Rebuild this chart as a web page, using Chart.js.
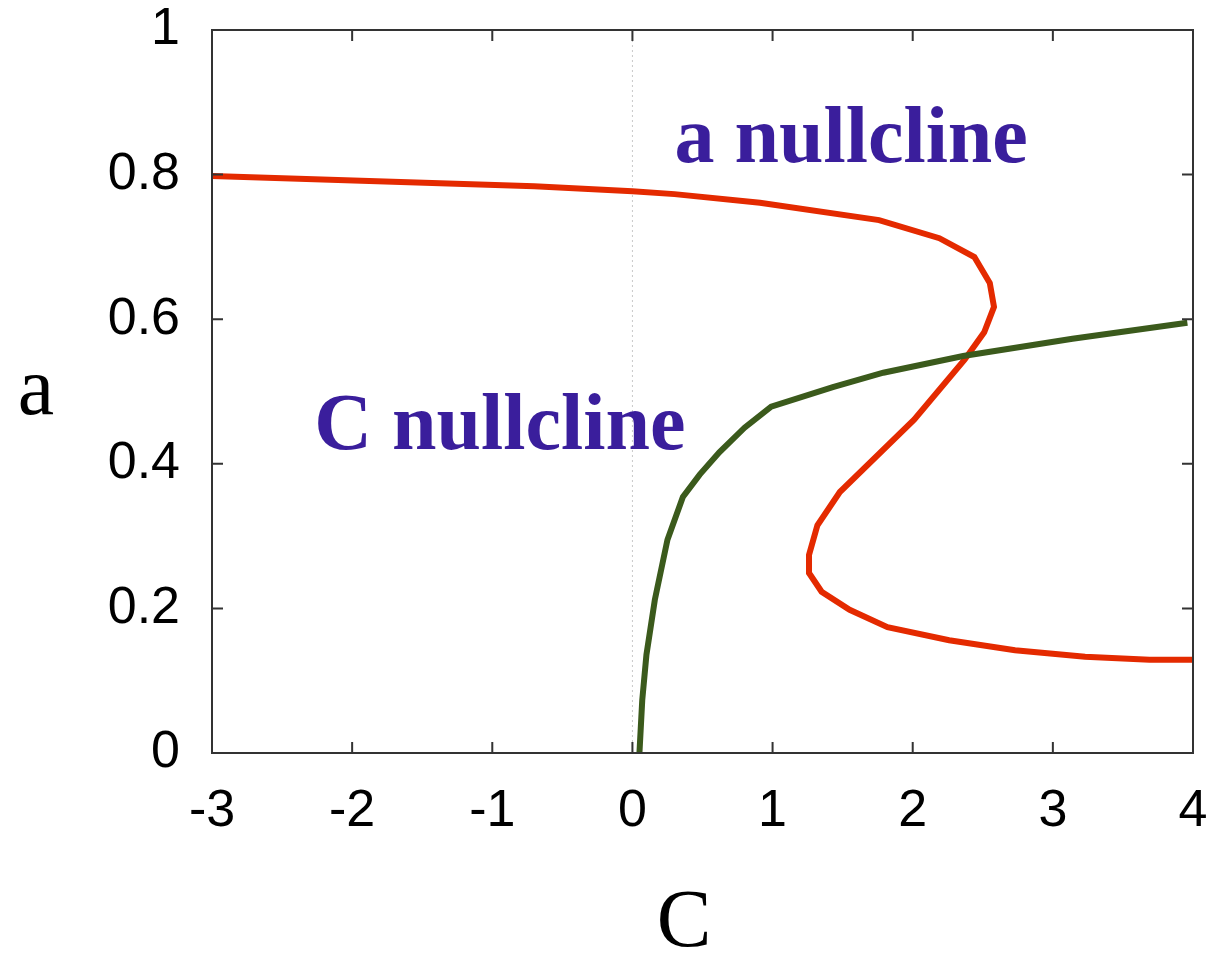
<!DOCTYPE html>
<html>
<head>
<meta charset="utf-8">
<script src="https://cdn.jsdelivr.net/npm/chart.js@4"></script>
<style>
  html, body { margin: 0; padding: 0; background: #fff; }
  #wrap { width: 1222px; height: 954px; }
</style>
</head>
<body>
<div id="wrap"><canvas id="canvas"></canvas></div>
<script>
// a nullcline (red)
const aNullC = [-3, -0.70, 0, 0.30, 0.91, 1.76, 2.19, 2.44, 2.55, 2.58, 2.51, 2.37, 2.01, 1.48, 1.32, 1.26, 1.26, 1.35, 1.55, 1.82, 2.26, 2.73, 3.23, 3.69, 4.0];
const aNullA = [0.798, 0.784, 0.777, 0.773, 0.761, 0.737, 0.712, 0.686, 0.650, 0.617, 0.582, 0.544, 0.461, 0.361, 0.315, 0.274, 0.249, 0.223, 0.198, 0.174, 0.156, 0.142, 0.133, 0.129, 0.129];

// C nullcline (green)
const cNullC = [0.05, 0.07, 0.10, 0.16, 0.25, 0.36, 0.48, 0.62, 0.80, 0.99, 1.43, 1.79, 2.36, 3.14, 3.96];
const cNullA = [0.0, 0.073, 0.136, 0.212, 0.295, 0.354, 0.385, 0.416, 0.450, 0.479, 0.506, 0.526, 0.549, 0.573, 0.595];

// textos sobre el grafico
const labels = [
  { text: "a nullcline", c: 0.30, a: 0.818 },
  { text: "C nullcline", c: -2.27, a: 0.420 }
];

const toPoints = (xs, ys) => xs.map((x, i) => ({ x: x, y: ys[i] }));

Chart.defaults.font.family = "'Liberation Sans', Arial, sans-serif";
Chart.defaults.color = "#000";

// dibuja ticks hacia adentro, linea punteada en C=0, textos y titulos
const extras = {
  id: "extras",
  beforeDatasetsDraw(chart) {
    const ctx = chart.ctx;
    const x = chart.scales.x;
    const area = chart.chartArea;
    const x0 = x.getPixelForValue(0);
    ctx.save();
    ctx.strokeStyle = "#c8c8c8";
    ctx.lineWidth = 1;
    ctx.setLineDash([2, 3]);
    ctx.beginPath();
    ctx.moveTo(x0, area.top);
    ctx.lineTo(x0, area.bottom);
    ctx.stroke();
    ctx.restore();
  },
  afterDraw(chart) {
    const ctx = chart.ctx;
    const x = chart.scales.x;
    const y = chart.scales.y;
    const area = chart.chartArea;
    ctx.save();
    ctx.strokeStyle = "#333";
    ctx.lineWidth = 2;
    ctx.beginPath();
    x.ticks.forEach((t) => {
      const px = x.getPixelForValue(t.value);
      ctx.moveTo(px, area.bottom);
      ctx.lineTo(px, area.bottom - 11);
      ctx.moveTo(px, area.top);
      ctx.lineTo(px, area.top + 11);
    });
    y.ticks.forEach((t) => {
      const py = y.getPixelForValue(t.value);
      ctx.moveTo(area.left, py);
      ctx.lineTo(area.left + 11, py);
      ctx.moveTo(area.right, py);
      ctx.lineTo(area.right - 11, py);
    });
    ctx.stroke();
    ctx.strokeRect(area.left, area.top, area.right - area.left, area.bottom - area.top);

    ctx.fillStyle = "#3a1e9c";
    ctx.font = "bold 80px 'Liberation Serif', 'Times New Roman', serif";
    ctx.textAlign = "left";
    ctx.textBaseline = "alphabetic";
    labels.forEach((l) => {
      ctx.fillText(l.text, x.getPixelForValue(l.c), y.getPixelForValue(l.a));
    });

    ctx.fillStyle = "#000";
    ctx.font = "82px 'Liberation Serif', 'Times New Roman', serif";
    ctx.textAlign = "center";
    ctx.fillText("a", 36, 414);
    ctx.fillText("C", 684, 946);
    ctx.restore();
  }
};

new Chart(document.getElementById("canvas"), {
  type: "scatter",
  data: {
    datasets: [
      {
        label: "C nullcline",
        data: toPoints(cNullC, cNullA),
        showLine: true,
        borderColor: "#3b5a1c",
        borderWidth: 6,
        pointRadius: 0,
        tension: 0
      },
      {
        label: "a nullcline",
        data: toPoints(aNullC, aNullA),
        showLine: true,
        borderColor: "#e42a00",
        borderWidth: 6,
        pointRadius: 0,
        tension: 0
      }
    ]
  },
  options: {
    responsive: true,
    maintainAspectRatio: false,
    animation: false,
    layout: { padding: { top: 30, right: 29, left: 0, bottom: 0 } },
    plugins: {
      legend: { display: false },
      tooltip: { enabled: false }
    },
    scales: {
      x: {
        type: "linear",
        min: -3,
        max: 4,
        ticks: { stepSize: 1, padding: 27, font: { size: 52 } },
        grid: { display: false, drawTicks: false },
        border: { display: false },
        afterFit: (scale) => {
          scale.height = 201;
          scale.paddingLeft = 0;
          scale.paddingRight = 0;
        }
      },
      y: {
        type: "linear",
        min: 0,
        max: 1,
        ticks: {
          stepSize: 0.2,
          padding: 32,
          font: { size: 52 },
          callback: (v) => String(Math.round(v * 10) / 10)
        },
        grid: { display: false, drawTicks: false },
        border: { display: false },
        afterFit: (scale) => {
          scale.width = 212;
          scale.paddingTop = 0;
          scale.paddingBottom = 0;
        }
      }
    }
  },
  plugins: [extras]
});
</script>
</body>
</html>
